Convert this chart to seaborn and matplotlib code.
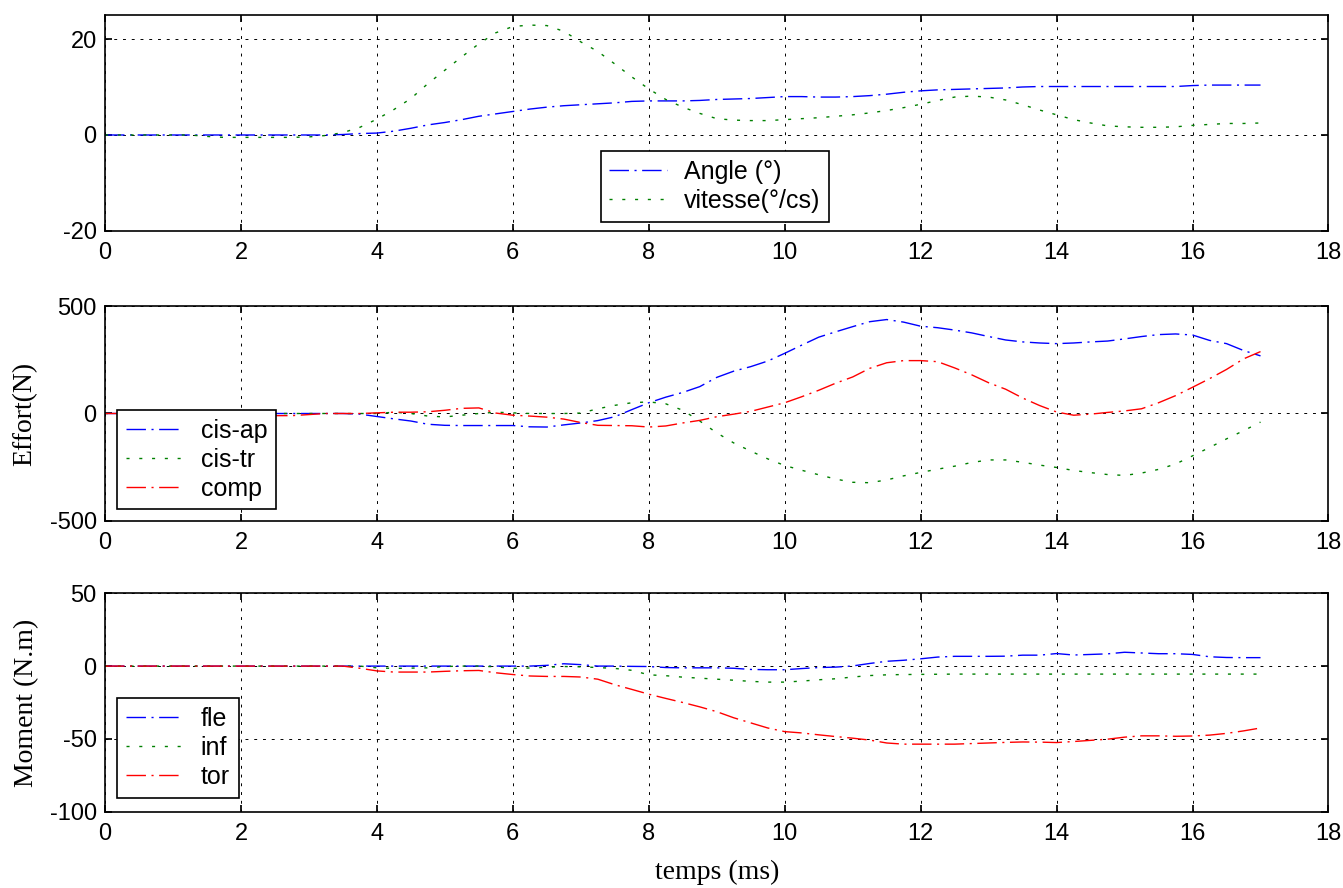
import numpy as np
import pandas as pd
import matplotlib
matplotlib.use("Agg")
import matplotlib.pyplot as plt
import seaborn as sns

# time axis (ms), sampled every 0.25 ms
t = np.arange(0, 17.01, 0.25)

# panel 1 : angle / speed
angle = [0, 0, 0, 0, 0, 0, 0, 0,
         0, 0, 0, 0, 0, 0, 0.1, 0.3,
         0.4, 0.8, 1.4, 2.1, 2.6, 3.2, 3.9, 4.4,
         4.9, 5.4, 5.8, 6.1, 6.3, 6.5, 6.7, 7.0,
         7.1, 7.1, 7.1, 7.2, 7.4, 7.5, 7.6, 7.8,
         8.0, 8.0, 7.9, 7.9, 8.0, 8.2, 8.5, 8.9,
         9.2, 9.4, 9.5, 9.6, 9.7, 9.8, 10.0, 10.1,
         10.1, 10.1, 10.1, 10.1, 10.1, 10.1, 10.1, 10.1,
         10.3, 10.4, 10.4, 10.4, 10.4]
vitesse = [0, 0, 0, 0, 0, 0, -0.3, -0.5,
           -0.5, -0.5, -0.5, -0.5, -0.4, -0.1, 0.5, 1.6,
           3.3, 5.3, 7.6, 10.7, 13.5, 16.3, 19.0, 21.3,
           22.6, 22.9, 22.8, 21.6, 19.4, 17.4, 14.8, 12.1,
           9.6, 7.4, 5.8, 4.5, 3.4, 3.1, 3.0, 3.0,
           3.2, 3.4, 3.6, 3.9, 4.2, 4.6, 5.1, 5.7,
           6.4, 7.2, 7.9, 8.1, 7.9, 7.3, 6.3, 5.2,
           4.2, 3.2, 2.5, 1.9, 1.7, 1.6, 1.6, 1.7,
           2.0, 2.2, 2.4, 2.4, 2.5]

# panel 2 : forces (N)
cis_ap = [0, 0, 0, 0, 0, 0, 0, 0,
          0, 0, 0, 0, 0, 0, 0, -3,
          -14, -25, -35, -50, -55, -56, -56, -56,
          -56, -62, -63, -53, -44, -33, -15, 18,
          50, 76, 98, 125, 168, 197, 218, 244,
          280, 318, 355, 380, 404, 427, 437, 425,
          406, 399, 388, 375, 358, 342, 333, 328,
          325, 328, 333, 337, 347, 358, 367, 370,
          365, 340, 325, 293, 268]
cis_tr = [0, 0, 0, 0, 0, 0, 0, 0,
          0, 0, 0, 0, 0, 0, 0, 0,
          0, 6, 0, -12, -16, -8, 0, 6,
          3, 0, 0, 0, 2, 22, 38, 50,
          54, 45, 15, -35, -90, -137, -175, -211,
          -242, -264, -285, -305, -320, -322, -309, -290,
          -274, -259, -245, -228, -216, -216, -227, -240,
          -251, -265, -275, -284, -288, -277, -260, -235,
          -197, -158, -118, -80, -40]
comp = [0, 0, 0, 0, 0, 0, 0, 0,
        0, 0, -10, -10, -5, 0, 0, 0,
        3, 6, 6, 8, 15, 24, 26, 2,
        -8, -12, -17, -26, -42, -55, -56, -57,
        -63, -58, -44, -32, -15, -3, 10, 30,
        50, 78, 108, 141, 170, 210, 236, 246,
        246, 241, 212, 180, 143, 113, 72, 37,
        7, -8, -3, 5, 12, 22, 50, 83,
        122, 162, 205, 254, 288]

# panel 3 : moments (N.m)
fle = [0, 0, 0, 0, 0, 0, 0, 0,
       0, 0, 0, 0, 0, 0, 0, 0,
       0, 0, 0, 0, 0, 0, 0, 0,
       0, 0, 0.5, 1.6, 1.0, 0, 0, -0.2,
       -0.3, -1.0, -1.2, -1.2, -1.2, -1.5, -2.3, -2.5,
       -2.5, -1.7, -1.0, -0.7, 0.1, 1.8, 3.3, 4.0,
       5.0, 6.2, 6.7, 6.7, 6.7, 6.8, 7.5, 7.5,
       8.6, 7.6, 8.0, 8.4, 9.5, 9.0, 8.5, 8.5,
       8.0, 6.4, 5.9, 5.8, 5.8]
inf = [0, 0, 0, 0, 0, 0, 0, 0,
       0, 0, 0, 0, 0, 0, 0, 0,
       -1.2, -1.6, -1.4, -1.2, -0.3, 0, 0, -0.5,
       -1.6, -1.3, -0.8, -0.3, -0.5, -1.0, -1.6, -2.9,
       -6.0, -6.6, -7.6, -8.3, -9.0, -9.7, -10.5, -11.0,
       -11.0, -10.3, -9.4, -8.7, -7.5, -6.5, -6.0, -5.8,
       -5.7, -5.6, -5.5, -5.5, -5.5, -5.5, -5.5, -5.5,
       -5.5, -5.5, -5.5, -5.5, -5.5, -5.5, -5.5, -5.5,
       -5.5, -5.5, -5.5, -5.5, -5.5]
tor = [0, 0, 0, 0, 0, 0, 0, 0,
       0, 0, 0, 0, 0, 0, 0, -1.5,
       -3.3, -4.1, -4.1, -4.1, -3.6, -3.2, -3.0, -4.6,
       -5.8, -6.8, -7.1, -7.1, -7.5, -9.0, -12.8, -16.0,
       -19.3, -22.2, -25.0, -28.0, -31.3, -35.5, -39.0, -42.5,
       -45.0, -45.9, -47.2, -48.4, -49.5, -50.8, -52.8, -53.6,
       -53.6, -53.6, -53.6, -53.2, -52.8, -52.4, -52.1, -52.2,
       -52.5, -51.8, -51.0, -50.2, -48.8, -47.9, -47.9, -48.2,
       -48.0, -47.4, -46.2, -44.5, -42.5]

blue, green, red = (0, 0, 1), (0, 0.5, 0), (1, 0, 0)
dashdot = (0, (14, 4, 1.5, 4))
dotted = (0, (2.2, 7))

sns.set_theme(style="white")
plt.rcParams["font.family"] = ["Liberation Sans", "DejaVu Sans"]
plt.rcParams["axes.edgecolor"] = "black"
plt.rcParams["axes.linewidth"] = 1.2
plt.rcParams["axes.unicode_minus"] = False
plt.rcParams["text.color"] = "black"

fig = plt.figure(figsize=(13.43, 8.88), dpi=100)
ax1 = fig.add_axes([0.0782, 0.7399, 0.911, 0.2432])
ax2 = fig.add_axes([0.0782, 0.4133, 0.911, 0.2421])
ax3 = fig.add_axes([0.0782, 0.0859, 0.911, 0.2460])


def panel(ax, series, ylim, yticks, leg_anchor):
    for name, vals, color, ls in series:
        sns.lineplot(x=t, y=vals, color=color, linestyle=ls, linewidth=1.0,
                     label=name, ax=ax)
    ax.set_xlim(0, 18)
    ax.set_xticks(range(0, 19, 2))
    ax.set_ylim(*ylim)
    ax.set_yticks(yticks)
    ax.grid(True, color="black", linestyle=(0, (3, 6)), linewidth=0.7)
    ax.tick_params(direction="in", length=5, top=True, right=True,
                   bottom=True, left=True, labelsize=17, colors="black")
    ax.tick_params(axis="x", pad=8)
    ax.tick_params(axis="y", pad=6)
    leg = ax.legend(loc="lower left", bbox_to_anchor=leg_anchor, borderaxespad=0,
                    frameon=True, fancybox=False, edgecolor="black", framealpha=1,
                    fontsize=18, handlelength=2.3, handletextpad=0.7,
                    labelspacing=0.2, borderpad=0.35)
    leg.get_frame().set_linewidth(1.2)
    for txt in leg.get_texts():
        txt.set_color("black")


panel(ax1, [("Angle (°)", angle, blue, dashdot),
            ("vitesse(°/cs)", vitesse, green, dotted)],
      (-20, 25), [-20, 0, 20], (0.405, 0.042))
panel(ax2, [("cis-ap", cis_ap, blue, dashdot),
            ("cis-tr", cis_tr, green, dotted),
            ("comp", comp, red, dashdot)],
      (-500, 500), [-500, 0, 500], (0.0098, 0.054))
panel(ax3, [("fle", fle, blue, dashdot),
            ("inf", inf, green, dotted),
            ("tor", tor, red, dashdot)],
      (-100, 50), [-100, -50, 0, 50], (0.0098, 0.064))

serif = ["Liberation Serif", "DejaVu Serif"]
ax2.set_ylabel("Effort(N)", fontfamily=serif, fontsize=20, color="black")
ax2.yaxis.set_label_coords(-0.055, 0.5)
ax3.set_ylabel("Moment (N.m)", fontfamily=serif, fontsize=20, color="black")
ax3.yaxis.set_label_coords(-0.054, 0.5)
ax3.set_xlabel("temps (ms)", fontfamily=serif, fontsize=20, color="black", labelpad=11)

fig.savefig("out.png", dpi=100)
